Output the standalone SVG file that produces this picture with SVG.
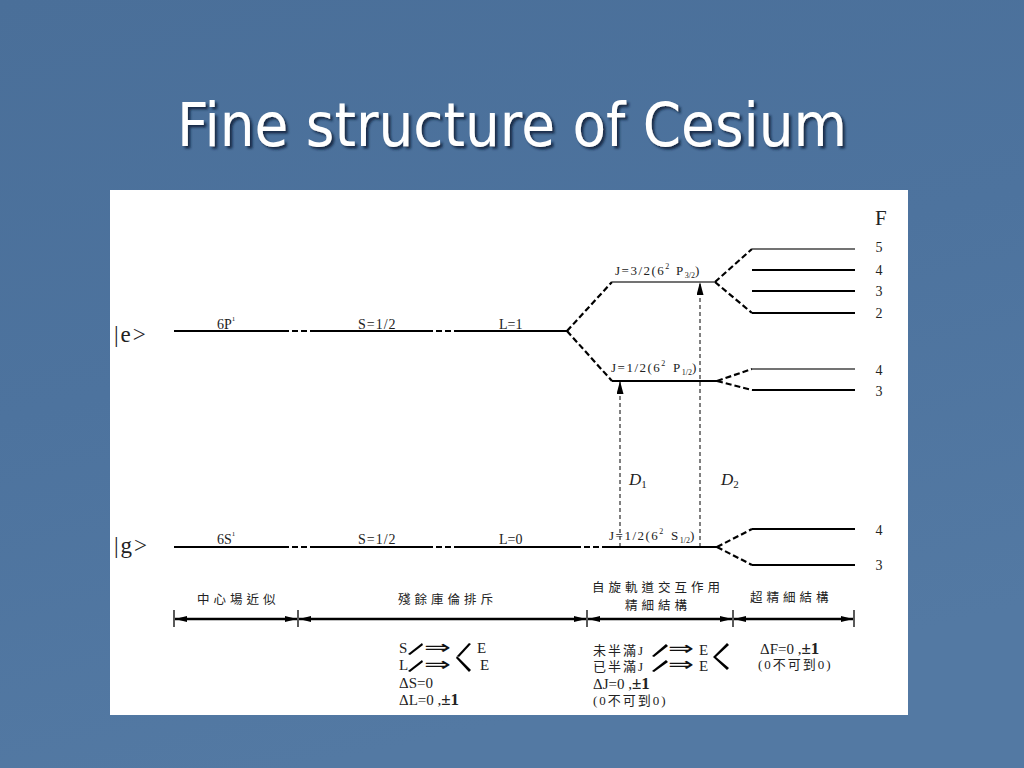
<svg xmlns="http://www.w3.org/2000/svg" width="1024" height="768" viewBox="0 0 1024 768">
<style>
.t{font-family:"Liberation Serif","Noto Sans CJK TC",serif;fill:#222}
.cjk{font-family:"Noto Sans CJK TC","Noto Sans CJK SC",sans-serif;fill:#222;font-size:12.5px;letter-spacing:4px}
.ar{font-family:"DejaVu Sans",sans-serif;font-size:20px;fill:#111}
.lv{stroke:#000;stroke-width:2.2;fill:none}
.thin{stroke:#444;stroke-width:1.3;fill:none}
.dd{stroke:#000;stroke-width:2.2;fill:none;stroke-dasharray:6 3}
.vd{stroke:#000;stroke-width:1;fill:none;stroke-dasharray:4 3}
.br{stroke:#000;stroke-width:2.5;fill:none}
.tick{stroke:#000;stroke-width:1.3}
.sl{fill:#000}
</style>
<defs>
<linearGradient id="bg" x1="0" y1="0" x2="0.3" y2="1">
<stop offset="0" stop-color="#4a6f99"/>
<stop offset="0.5" stop-color="#4d739e"/>
<stop offset="1" stop-color="#5379a3"/>
</linearGradient>
<filter id="sh" x="-5%" y="-20%" width="110%" height="150%">
<feDropShadow dx="2.5" dy="2.5" stdDeviation="1" flood-color="#10203a" flood-opacity="0.85"/>
</filter>
<marker id="ah" viewBox="0 0 12 6" markerWidth="12" markerHeight="6" refX="12" refY="3" orient="auto-start-reverse" markerUnits="userSpaceOnUse">
<path d="M0,0 L12,3 L0,6 Z" fill="#000"/>
</marker>
<marker id="up" viewBox="0 0 13 7" markerWidth="13" markerHeight="7" refX="13" refY="3.5" orient="auto" markerUnits="userSpaceOnUse">
<path d="M0,0 L13,3.5 L0,7 Z" fill="#000"/>
</marker>
</defs>

<rect width="1024" height="768" fill="url(#bg)"/>
<text x="512" y="146" text-anchor="middle" font-family="DejaVu Sans, Verdana, sans-serif" font-size="60" fill="#fff" textLength="670" lengthAdjust="spacingAndGlyphs" filter="url(#sh)">Fine structure of Cesium</text>

<rect x="110" y="190" width="798" height="525" fill="#fff"/>

<g id="connectors">
<path class="dd" d="M567,331 L612,282"/>
<path class="dd" d="M567,331 L612,381"/>
<path class="dd" d="M715,282 L752,249"/>
<path class="dd" d="M715,282 L752,313"/>
<path class="dd" d="M717,381 L752,369"/>
<path class="dd" d="M717,381 L752,390"/>
<path class="dd" d="M717,547 L752,529"/>
<path class="dd" d="M717,547 L752,565"/>
<line class="vd" x1="620" y1="547" x2="620" y2="381" marker-end="url(#up)"/>
<line class="vd" x1="700" y1="547" x2="700" y2="282" marker-end="url(#up)"/>
<line class="br" x1="175" y1="619" x2="297" y2="619" marker-start="url(#ah)" marker-end="url(#ah)"/>
<line class="br" x1="299" y1="619" x2="586" y2="619" marker-start="url(#ah)" marker-end="url(#ah)"/>
<line class="br" x1="588" y1="619" x2="732" y2="619" marker-start="url(#ah)" marker-end="url(#ah)"/>
<line class="br" x1="734" y1="619" x2="853" y2="619" marker-start="url(#ah)" marker-end="url(#ah)"/>
<line class="tick" x1="174" y1="610" x2="174" y2="627"/>
<line class="tick" x1="298" y1="610" x2="298" y2="627"/>
<line class="tick" x1="587" y1="610" x2="587" y2="627"/>
<line class="tick" x1="733" y1="610" x2="733" y2="627"/>
<line class="tick" x1="854" y1="610" x2="854" y2="627"/>
</g>

<g id="excited">
<text class="t" x="114" y="342" font-size="23" letter-spacing="2" fill="#333">|e&gt;</text>
<path class="lv" d="M174,331 H283 M312,331 H427 M458,331 H567"/>
<path class="lv" d="M283,331 H312 M427,331 H458" stroke-dasharray="6 3"/>
<text class="t" x="217" y="329" font-size="14">6P<tspan font-size="7" dy="-8">1</tspan></text>
<text class="t" x="358" y="329" font-size="14" letter-spacing="1">S=1/2</text>
<text class="t" x="499" y="329" font-size="14">L=1</text>
</g>

<g id="j32">
<path class="thin" d="M612,282 H715"/>
<text class="t" x="615" y="275" font-size="13" letter-spacing="1.5">J=3/2(6<tspan font-size="8" dy="-6">2</tspan><tspan dy="6" x="676">P</tspan><tspan font-size="8" dy="3" letter-spacing="0">3/2</tspan><tspan dy="-3">)</tspan></text>
</g>

<g id="j12e">
<path class="lv" d="M612,381 H717"/>
<text class="t" x="611" y="372" font-size="13" letter-spacing="1.5">J=1/2(6<tspan font-size="8" dy="-6">2</tspan><tspan dy="6" x="673">P</tspan><tspan font-size="8" dy="3" letter-spacing="0">1/2</tspan><tspan dy="-3">)</tspan></text>
</g>

<g id="hfs-e">
<path class="thin" d="M752,249 H855"/>
<path class="lv" d="M752,270 H855 M752,291 H855 M752,313 H855"/>
<path class="thin" d="M752,369 H855"/>
<path class="lv" d="M752,390 H855"/>
<text class="t" x="875" y="225" font-size="21">F</text>
<g class="t" font-size="14" text-anchor="middle">
<text x="879" y="252">5</text>
<text x="879" y="275">4</text>
<text x="879" y="296">3</text>
<text x="879" y="318">2</text>
<text x="879" y="375">4</text>
<text x="879" y="396">3</text>
</g>
</g>

<g id="dlabels">
<text class="t" x="629" y="485" font-size="17" font-style="italic">D<tspan font-size="11" font-style="normal" dy="3">1</tspan></text>
<text class="t" x="721" y="485" font-size="17" font-style="italic">D<tspan font-size="11" font-style="normal" dy="3">2</tspan></text>
</g>

<g id="ground">
<text class="t" x="114" y="553" font-size="23" letter-spacing="2" fill="#333">|g&gt;</text>
<path class="lv" d="M174,547 H283 M312,547 H427 M458,547 H575 M605,547 H717"/>
<path class="lv" d="M283,547 H312 M427,547 H458 M575,547 H605" stroke-dasharray="6 3"/>
<text class="t" x="217" y="544" font-size="14">6S<tspan font-size="7" dy="-8">1</tspan></text>
<text class="t" x="358" y="544" font-size="14" letter-spacing="1">S=1/2</text>
<text class="t" x="499" y="544" font-size="14">L=0</text>
<text class="t" x="609" y="540" font-size="13" letter-spacing="1.5">J=1/2(6<tspan font-size="8" dy="-6">2</tspan><tspan dy="6" x="671">S</tspan><tspan font-size="8" dy="3" letter-spacing="0">1/2</tspan><tspan dy="-3">)</tspan></text>
</g>

<g id="hfs-g">
<path class="lv" d="M752,529 H855 M752,565 H855"/>
<text class="t" x="879" y="535" font-size="14" text-anchor="middle">4</text>
<text class="t" x="879" y="570" font-size="14" text-anchor="middle">3</text>
</g>

<g id="stages">
<text class="cjk" x="197" y="604">中心場近似</text>
<text class="cjk" x="398" y="604">殘餘庫倫排斥</text>
<text class="cjk" x="592" y="592">自旋軌道交互作用</text>
<text class="cjk" x="625" y="610">精細結構</text>
<text class="cjk" x="750" y="602">超精細結構</text>
</g>

<g id="rule-residual">
<text class="t" x="399" y="653" font-size="15">S</text>
<polygon class="sl" points="408,654 422,643 423,645 410,655"/>
<text class="ar" x="424" y="654" textLength="27" lengthAdjust="spacingAndGlyphs">⇒</text>
<polygon class="sl" points="457,656 469,643 471,644 459,657"/>
<text class="t" x="477" y="653" font-size="15">E</text>
<text class="t" x="399" y="670" font-size="15">L</text>
<polygon class="sl" points="408,671 422,660 423,662 410,672"/>
<text class="ar" x="424" y="671" textLength="27" lengthAdjust="spacingAndGlyphs">⇒</text>
<polygon class="sl" points="457,656 471,670 469,672 456,658"/>
<text class="t" x="480" y="670" font-size="15">E</text>
<text class="t" x="399" y="688" font-size="15">ΔS=0</text>
<text class="t" x="399" y="705" font-size="15">ΔL=0 ,<tspan font-size="17" font-weight="bold">±1</tspan></text>
</g>

<g id="rule-fine">
<text class="t" x="593" y="655" font-size="13" letter-spacing="2">未半滿J</text>
<polygon class="sl" points="652,656 666,644 668,646 654,657"/>
<text class="ar" x="668" y="655" textLength="26" lengthAdjust="spacingAndGlyphs">⇒</text>
<text class="t" x="699" y="655" font-size="15">E</text>
<text class="t" x="593" y="671" font-size="13" letter-spacing="2">已半滿J</text>
<polygon class="sl" points="652,671 666,660 668,662 654,672"/>
<text class="ar" x="668" y="671" textLength="26" lengthAdjust="spacingAndGlyphs">⇒</text>
<text class="t" x="699" y="671" font-size="15">E</text>
<polygon class="sl" points="713,657 727,643 729,645 716,657 729,668 727,670"/>
<text class="t" x="593" y="689" font-size="15">ΔJ=0 ,<tspan font-size="17" font-weight="bold">±1</tspan></text>
<text class="t" x="593" y="705" font-size="13" letter-spacing="2">(0不可到0)</text>
</g>

<g id="rule-hfs">
<text class="t" x="760" y="654" font-size="15">ΔF=0 ,<tspan font-size="17" font-weight="bold">±1</tspan></text>
<text class="t" x="758" y="669" font-size="13" letter-spacing="2">(0不可到0)</text>
</g>
</svg>
